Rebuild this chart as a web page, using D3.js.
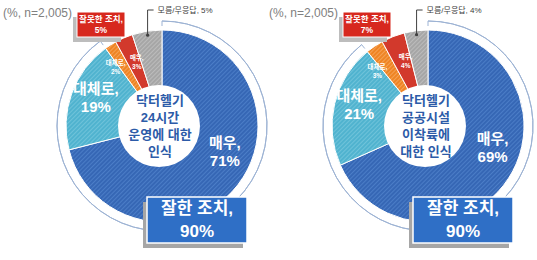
<!DOCTYPE html>
<html>
<head>
<meta charset="utf-8">
<script src="https://cdn.jsdelivr.net/npm/d3@7"></script>
<style>
  body { margin: 0; background: #fff; }
  text { font-family: "Liberation Sans", "Noto Sans CJK KR", sans-serif; }
</style>
</head>
<body>
<svg id="chart" width="537" height="260"></svg>
<script>
// slices, clockwise from 12 o'clock
const categories = ['매우', '대체로', '대체로', '매우', '모름/무응답'];
const groups = ['good', 'good', 'bad', 'bad', 'none'];
const values24h = [71, 19, 2, 3, 5];
const valuesLanding = [69, 21, 3, 4, 4];
const title24h = ['닥터헬기', '24시간', '운영에 대한', '인식'];
const titleLanding = ['닥터헬기', '공공시설', '이착륙에', '대한 인식'];
const goodTotals = [90, 90];
const badTotals = [5, 7];
const goodLabel = '잘한 조치,';
const badLabel = '잘못한 조치,';
const sampleNote = '(%, n=2,005)';

const sliceFill = ['url(#hatchDark)', 'url(#hatchLight)', 'url(#hatchOrange)', '#d2392c', 'url(#hatchGray)'];
// where each slice label sits: fraction along the slice, radius, font size, line gap
const labelSpot = [
  { t: 0.44, r: 68, size: 15, gap: 18 },
  { t: 0.55, r: 72, size: 15, gap: 18 },
  { t: -0.3, r: 75, size: 6.5, gap: 9 },
  { t: 0.68, r: 69, size: 6.5, gap: 9 },
  null
];

const panels = [
  { values: values24h, title: title24h, good: goodTotals[0], bad: badTotals[0], cx: 162, cy: 126 },
  { values: valuesLanding, title: titleLanding, good: goodTotals[1], bad: badTotals[1], cx: 428, cy: 126 }
];

const svg = d3.select('#chart');
const defs = svg.append('defs');

function hatch(id, base, stripe) {
  const p = defs.append('pattern')
    .attr('id', id)
    .attr('patternUnits', 'userSpaceOnUse')
    .attr('width', 3)
    .attr('height', 3)
    .attr('patternTransform', 'rotate(45)');
  p.append('rect').attr('width', 3).attr('height', 3).attr('fill', base);
  p.append('rect').attr('width', 1).attr('height', 3).attr('fill', stripe);
}
hatch('hatchDark', '#3667b5', '#4b7dc7');
hatch('hatchLight', '#50b3cf', '#6fc3da');
hatch('hatchOrange', '#ef8424', '#f5a154');
hatch('hatchGray', '#a6a6a6', '#bcbcbc');

const outerR = 96;
const ringR = 105;

const pie = d3.pie().sort(null).value(d => d);
const arc = d3.arc().innerRadius(0).outerRadius(outerR);

function polar(a, r) {
  return [r * Math.sin(a), -r * Math.cos(a)];
}

// one <text> with a tspan per line, centred on (x, y)
function multiline(parent, lines, x, y, gap) {
  const t = parent.append('text')
    .attr('x', x)
    .attr('y', y)
    .attr('text-anchor', 'middle');
  lines.forEach((line, k) => {
    t.append('tspan')
      .attr('x', x)
      .attr('y', y + (k - (lines.length - 1) / 2) * gap)
      .attr('dominant-baseline', 'central')
      .text(line);
  });
  return t;
}

panels.forEach(p => {
  const g = svg.append('g').attr('transform', `translate(${p.cx},${p.cy})`);
  const slices = pie(p.values);

  // note
  svg.append('text')
    .attr('x', p.cx - 159)
    .attr('y', 13)
    .attr('dominant-baseline', 'central')
    .attr('font-size', 12)
    .attr('fill', '#808080')
    .text(sampleNote);

  // bracket ring around the "good" part
  const total = d3.sum(p.values);
  const goodEnd = 2 * Math.PI * d3.sum(p.values.filter((v, i) => groups[i] === 'good')) / total;
  g.append('path')
    .attr('d', d3.arc().innerRadius(ringR).outerRadius(ringR).startAngle(0).endAngle(goodEnd)())
    .attr('fill', 'none')
    .attr('stroke', '#9db3d4')
    .attr('stroke-width', 1);
  [0, goodEnd].forEach(a => {
    const p0 = polar(a, ringR), p1 = polar(a, ringR - 5);
    g.append('line')
      .attr('x1', p0[0]).attr('y1', p0[1])
      .attr('x2', p1[0]).attr('y2', p1[1])
      .attr('stroke', '#9db3d4');
  });

  g.selectAll('path.slice')
    .data(slices)
    .enter()
    .append('path')
    .attr('class', 'slice')
    .attr('d', arc)
    .attr('fill', (d, i) => sliceFill[i])
    .attr('stroke', '#fff')
    .attr('stroke-width', 1);

  // hole
  g.append('circle')
    .attr('cx', -3)
    .attr('cy', 0)
    .attr('r', 41)
    .attr('fill', '#fff');

  multiline(g, p.title, -2, 0, 17)
    .attr('font-size', 13)
    .attr('font-weight', 'bold')
    .attr('fill', '#2c5ba8');

  // slice labels
  slices.forEach((d, i) => {
    const spot = labelSpot[i];
    if (!spot) return;
    const a = d.startAngle + spot.t * (d.endAngle - d.startAngle);
    const pos = polar(a, spot.r);
    multiline(g, [categories[i] + ',', d.data + '%'], pos[0], pos[1], spot.gap)
      .attr('font-size', spot.size)
      .attr('font-weight', 'bold')
      .attr('fill', '#fff');
  });

  // leader for "모름/무응답"
  const none = slices[4];
  const na = (none.startAngle + none.endAngle) / 2;
  const np = polar(na, outerR - 4);
  const topY = 10 - p.cy;
  g.append('path')
    .attr('d', `M${np[0]},${np[1]}V${topY}h6`)
    .attr('fill', 'none')
    .attr('stroke', '#404040')
    .attr('stroke-width', 1);
  g.append('circle')
    .attr('cx', np[0]).attr('cy', np[1]).attr('r', 1.6)
    .attr('fill', '#404040');
  g.append('text')
    .attr('x', np[0] + 10)
    .attr('y', topY)
    .attr('dominant-baseline', 'central')
    .attr('font-size', 8)
    .attr('fill', '#404040')
    .text(categories[4] + ', ' + none.data + '%');

  // "bad" callout box
  const bad = g.append('g').attr('transform', `translate(-61,${24.5 - p.cy})`);
  bad.append('rect')
    .attr('x', -28).attr('y', -7.5).attr('width', 48).attr('height', 25)
    .attr('fill', '#bdbdbd');
  bad.append('rect')
    .attr('x', -24).attr('y', -12.5).attr('width', 48).attr('height', 25)
    .attr('fill', '#d7281e')
    .attr('stroke', '#fff')
    .attr('stroke-width', 1);
  multiline(bad, [badLabel, p.bad + '%'], 0, 0, 11)
    .attr('font-size', 8.5)
    .attr('font-weight', 'bold')
    .attr('fill', '#fff');

  // "good" callout box
  const good = g.append('g').attr('transform', 'translate(35,94)');
  good.append('rect')
    .attr('x', -54).attr('y', -18).attr('width', 100).attr('height', 46)
    .attr('fill', '#a6a6a6');
  good.append('rect')
    .attr('x', -50).attr('y', -23).attr('width', 100).attr('height', 46)
    .attr('fill', '#2f6fc6')
    .attr('stroke', '#fff')
    .attr('stroke-width', 1.5);
  multiline(good, [goodLabel, p.good + '%'], 0, 0, 23)
    .attr('font-size', 17)
    .attr('font-weight', 'bold')
    .attr('fill', '#fff');
});
</script>
</body>
</html>
